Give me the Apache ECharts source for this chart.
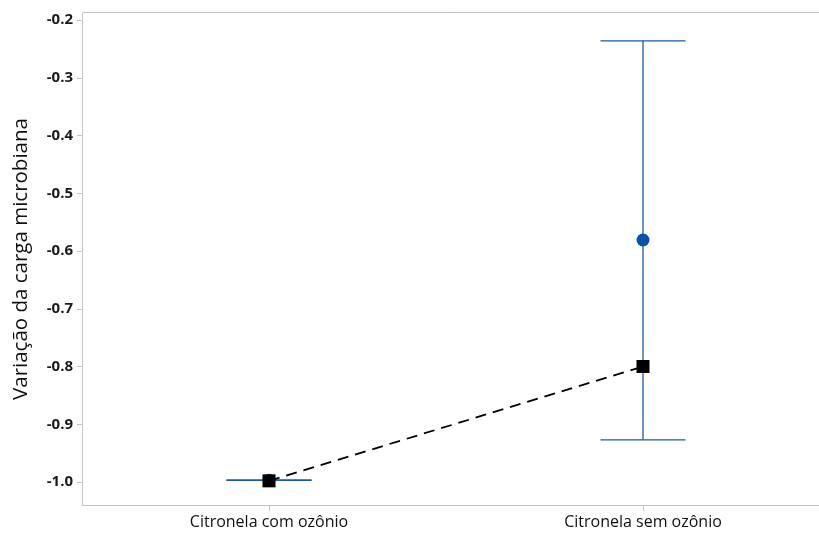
<!DOCTYPE html>
<html>
<head>
<meta charset="utf-8">
<script src="https://cdn.jsdelivr.net/npm/echarts@6/dist/echarts.min.js"></script>
<style>html,body{margin:0;padding:0;background:#fff}#c{width:819px;height:533px}</style>
</head>
<body>
<div id="c"></div>
<script>
var categories = ['Citronela com ozônio', 'Citronela sem ozônio'];
var catPositions = [1, 2];
var meanValues = [-0.997, -0.581];
var lowerValues = [-0.997, -0.927];
var upperValues = [-0.997, -0.236];
var medianValues = [-0.998, -0.80];
var yTicks = [-1.0, -0.9, -0.8, -0.7, -0.6, -0.5, -0.4, -0.3, -0.2];

var chart = echarts.init(document.getElementById('c'), null, {renderer: 'canvas'});
var errData = catPositions.map(function (p, i) { return [p, lowerValues[i], upperValues[i]]; });
var meanData = catPositions.map(function (p, i) { return [p, meanValues[i]]; });
var medData = catPositions.map(function (p, i) { return [p, medianValues[i]]; });
var font = 'Open Sans';
chart.setOption({
  animation: false,
  backgroundColor: '#fff',
  grid: {left: 82, right: 0, top: 20, bottom: 51, containLabel: false},
  graphic: [{
    type: 'polyline', shape: {points: [[830, 12.5], [82.5, 12.5], [82.5, 505.5], [830, 505.5]]},
    style: {fill: 'none', stroke: '#c4c4c4', lineWidth: 1}, z: -1
  }],
  xAxis: {
    type: 'value', min: 0.5, max: 2.4706, offset: 24,
    axisLine: {show: false},
    axisTick: {show: true, customValues: catPositions, length: 5, lineStyle: {color: '#c4c4c4'}},
    axisLabel: {show: true, customValues: catPositions, fontFamily: font, fontSize: 16, color: '#111', margin: 8,
      formatter: function (v) { var i = catPositions.indexOf(Math.round(v)); return i >= 0 ? categories[i] : ''; }},
    splitLine: {show: false}
  },
  yAxis: {
    type: 'value', min: yTicks[0], max: yTicks[yTicks.length - 1], interval: 0.1,
    name: 'Variação da carga microbiana', nameLocation: 'middle', nameGap: 50,
    nameTextStyle: {fontFamily: font, fontSize: 20.5, color: '#111', padding: [0, 16, 0, 0]},
    axisLine: {show: false},
    axisTick: {show: true, length: 5, lineStyle: {color: '#c4c4c4'}},
    axisLabel: {fontFamily: font, fontSize: 15, fontWeight: 700, color: '#1a1a1a', margin: 9,
      formatter: function (v) { return v.toFixed(1); }},
    splitLine: {show: false}
  },
  series: [
    {
      type: 'custom', data: errData, z: 2,
      renderItem: function (params, api) {
        var x = api.value(0);
        var lo = api.coord([x, api.value(1)]);
        var hi = api.coord([x, api.value(2)]);
        var hw = 42.5;
        var st = {stroke: '#1a5aa8', lineWidth: 1.3};
        return {type: 'group', children: [
          {type: 'line', shape: {x1: hi[0], y1: hi[1], x2: lo[0], y2: lo[1]}, style: st},
          {type: 'line', shape: {x1: hi[0] - hw, y1: hi[1], x2: hi[0] + hw, y2: hi[1]}, style: st},
          {type: 'line', shape: {x1: lo[0] - hw, y1: lo[1], x2: lo[0] + hw, y2: lo[1]}, style: st}
        ]};
      }
    },
    {
      type: 'scatter', data: meanData, symbol: 'circle', symbolSize: 13, z: 3,
      itemStyle: {color: '#0654a8', opacity: 1}
    },
    {
      type: 'line', data: medData, symbol: 'rect', symbolSize: 13, z: 4,
      lineStyle: {color: '#000', width: 1.8, type: [11, 7]},
      itemStyle: {color: '#000', opacity: 1}
    }
  ]
});
</script>
</body>
</html>
